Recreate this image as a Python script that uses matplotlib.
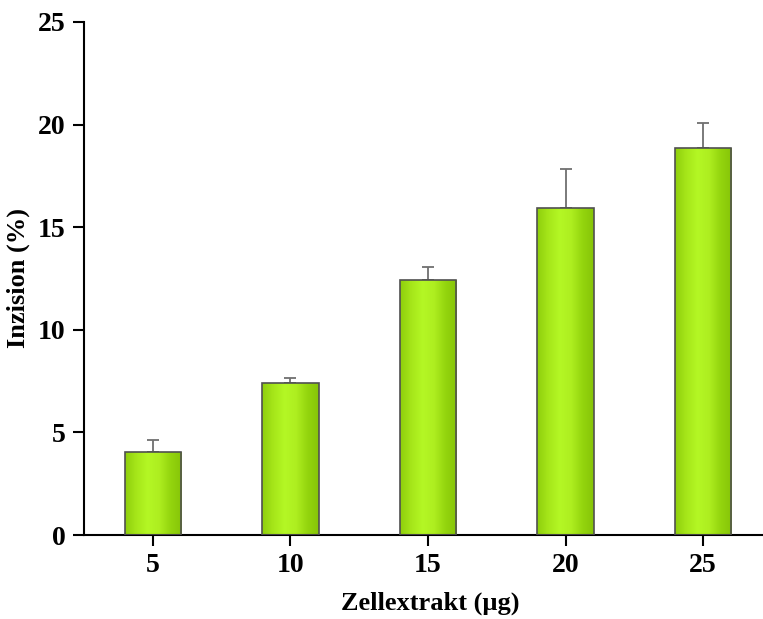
import numpy as np
import matplotlib.pyplot as plt
from matplotlib.colors import LinearSegmentedColormap

plt.rcParams['font.family'] = ['Liberation Serif', 'DejaVu Serif']
plt.rcParams['font.weight'] = 'bold'

# Daten
doses = ['5', '10', '15', '20', '25']
incision = [4.04, 7.40, 12.43, 15.95, 18.87]
err_upper = [0.58, 0.24, 0.62, 1.88, 1.22]

fig = plt.figure(figsize=(7.63, 6.19), dpi=100)
ax = fig.add_axes([0.110, 0.1357, 0.890, 0.8288])

x = np.arange(len(doses))
width = 0.41

# horizontaler Farbverlauf für die Balken
green = LinearSegmentedColormap.from_list(
    'bar_green', ['#8fcf0c', '#a6e61a', '#b4f725', '#aeee20', '#94d50e', '#86c408'])
grad = np.linspace(0, 1, 256).reshape(1, -1)

bars = ax.bar(x, incision, width, color='none', edgecolor='#505050', linewidth=1.2, zorder=3)
for b in bars:
    x0, y0 = b.get_x(), b.get_y()
    im = ax.imshow(grad, cmap=green, aspect='auto', interpolation='bicubic',
                   extent=[x0, x0 + b.get_width(), y0, y0 + b.get_height()], zorder=2)
    im.set_clip_path(b)

ax.errorbar(x, incision, yerr=[np.zeros(len(x)), err_upper], fmt='none',
            ecolor='#707070', elinewidth=1.3, capsize=4, capthick=1.3, zorder=1)

ax.set_xlim(-0.502, 4.436)
ax.set_ylim(0, 25)
ax.set_xticks(x)
ax.set_xticklabels(doses)
ax.set_yticks([0, 5, 10, 15, 20, 25])

for side in ['top', 'right']:
    ax.spines[side].set_visible(False)
for side in ['left', 'bottom']:
    ax.spines[side].set_linewidth(1.5)
ax.tick_params(direction='out', length=8, width=1.5, labelsize=20, pad=5)

ax.set_xlabel('Zellextrakt (µg)', fontsize=19, fontweight='bold', labelpad=10)
ax.xaxis.label.set_x(0.51)
ax.set_ylabel('Inzision (%)', fontsize=19, fontweight='bold', labelpad=6)

fig.savefig('out.png', dpi=100)
